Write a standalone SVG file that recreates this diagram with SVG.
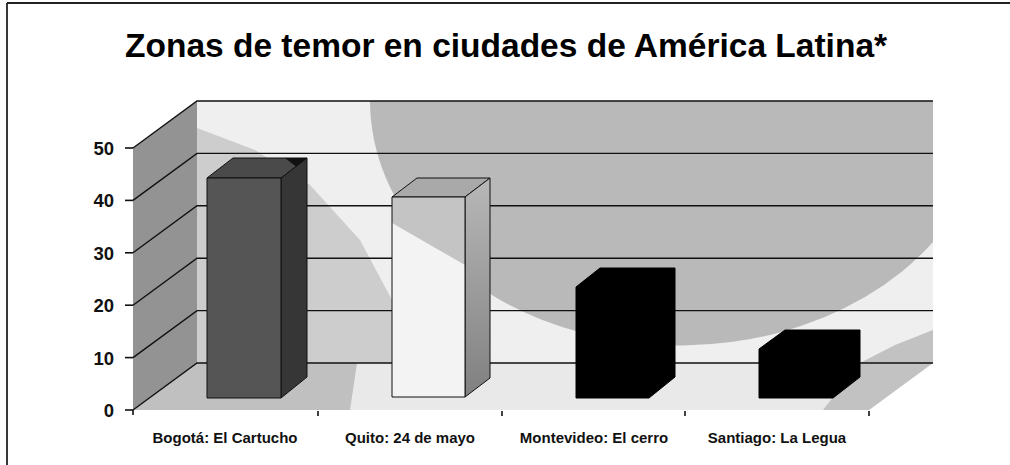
<svg xmlns="http://www.w3.org/2000/svg" width="1010" height="465" viewBox="0 0 1010 465">
  <style>
    .grid { stroke: #111; stroke-width: 1.4; fill: none; }
    .tick { stroke: #111; stroke-width: 1.6; }
    .ylab { font-family: "Liberation Sans", Arial, sans-serif; font-weight: bold; font-size: 18.5px; fill: #111; text-anchor: end; }
    .xlab { font-family: "Liberation Sans", Arial, sans-serif; font-weight: bold; font-size: 15px; fill: #111; text-anchor: middle; }
    .title { font-family: "Liberation Sans", Arial, sans-serif; font-weight: bold; font-size: 33.5px; fill: #000; }
    .edge { stroke: #111; stroke-width: 1; stroke-linejoin: round; }
  </style>
  <defs>
    <linearGradient id="quitoSide" x1="0" y1="0" x2="0" y2="1">
      <stop offset="0" stop-color="#b8b8b8"/>
      <stop offset="1" stop-color="#808080"/>
    </linearGradient>
  </defs>
  <rect width="1010" height="465" fill="#fff"/>

  <!-- frame -->
  <g id="frame" stroke="#222" stroke-width="1.8" fill="none">
    <line x1="7" y1="3" x2="1010" y2="3"/>
    <line x1="7" y1="3" x2="7" y2="465"/>
  </g>

  <text id="title" class="title" x="125" y="57">Zonas de temor en ciudades de América Latina*</text>

  <!-- walls and floor -->
  <g id="plot-area">
    <rect x="197" y="101" width="736" height="262" fill="#efefef"/>
    <path d="M370,101 A310,245 0 0 0 933,242 L933,101 Z" fill="#b9b9b9"/>
    <path d="M197,128 L255,150 L310,185 L360,240 L392,300 L400,363 L197,363 Z" fill="#cdcdcd"/>
    <path d="M933,330 L895,345 L860,363 L933,363 Z" fill="#c2c2c2"/>
    <polygon points="133,410 197,363 933,363 869,410" fill="#e9e9e9"/>
    <path d="M133,410 L197,363 L357,363 L350,410 Z" fill="#c0c0c0"/>
    <path d="M823,410 L869,410 L933,363 L860,363 Z" fill="#c2c2c2"/>
    <polygon points="133,410 133,148 197,101 197,363" fill="#939393"/>
  </g>

  <!-- gridlines -->
  <g id="gridlines" class="grid">
    <path d="M133,410 L197,363 L933,363"/>
    <path d="M133,357.6 L197,310.6 L933,310.6"/>
    <path d="M133,305.2 L197,258.2 L933,258.2"/>
    <path d="M133,252.8 L197,205.8 L933,205.8"/>
    <path d="M133,200.4 L197,153.4 L933,153.4"/>
    <path d="M133,148 L197,101 L933,101"/>
  </g>

  <!-- y axis ticks and labels -->
  <g id="y-axis">
    <g class="tick">
      <line x1="125" y1="410" x2="133" y2="410"/>
      <line x1="125" y1="357.6" x2="133" y2="357.6"/>
      <line x1="125" y1="305.2" x2="133" y2="305.2"/>
      <line x1="125" y1="252.8" x2="133" y2="252.8"/>
      <line x1="125" y1="200.4" x2="133" y2="200.4"/>
      <line x1="125" y1="148" x2="133" y2="148"/>
    </g>
    <text class="ylab" x="114" y="417">0</text>
    <text class="ylab" x="114" y="364.5">10</text>
    <text class="ylab" x="114" y="312">20</text>
    <text class="ylab" x="114" y="259.5">30</text>
    <text class="ylab" x="114" y="207">40</text>
    <text class="ylab" x="114" y="155">50</text>
  </g>

  <!-- bars -->
  <g id="bar-bogota">
    <polygon class="edge" points="207,178 233,158 307,158 281,178" fill="#4a4a4a"/>
    <polygon points="285,158 307,158 307,175" fill="#111"/>
    <polygon class="edge" points="281,178 307,158 307,377 281,398" fill="#363636"/>
    <rect class="edge" x="207" y="178" width="74" height="220" fill="#555"/>
  </g>
  <g id="bar-quito">
    <polygon class="edge" points="392,197 417,178 490,178 465,197" fill="#a9a9a9"/>
    <polygon class="edge" points="465,197 490,178 490,378 465,397" fill="url(#quitoSide)"/>
    <rect x="392" y="197" width="73" height="200" fill="#f3f3f3"/>
    <polygon points="392,197 465,197 465,265 392,223" fill="#c4c4c4"/>
    <rect class="edge" x="392" y="197" width="73" height="200" fill="none"/>
  </g>
  <g id="bar-montevideo">
    <polygon points="576,287 600,268 675,268 675,377 649,398 576,398" fill="#000" stroke="#000" stroke-width="1"/>
  </g>
  <g id="bar-santiago">
    <polygon points="759,349 785,330 860,330 860,377 833,398 759,398" fill="#000" stroke="#000" stroke-width="1"/>
  </g>

  <!-- x axis ticks and labels -->
  <g id="x-axis">
    <g class="tick">
      <line x1="133" y1="410" x2="133" y2="415"/>
      <line x1="318" y1="411" x2="318" y2="416"/>
      <line x1="502" y1="411" x2="502" y2="416"/>
      <line x1="685" y1="411" x2="685" y2="416"/>
      <line x1="869" y1="411" x2="869" y2="416"/>
    </g>
    <text class="xlab" x="225" y="443">Bogotá: El Cartucho</text>
    <text class="xlab" x="410" y="443">Quito: 24 de mayo</text>
    <text class="xlab" x="594" y="443">Montevideo: El cerro</text>
    <text class="xlab" x="777" y="443">Santiago: La Legua</text>
  </g>
</svg>
